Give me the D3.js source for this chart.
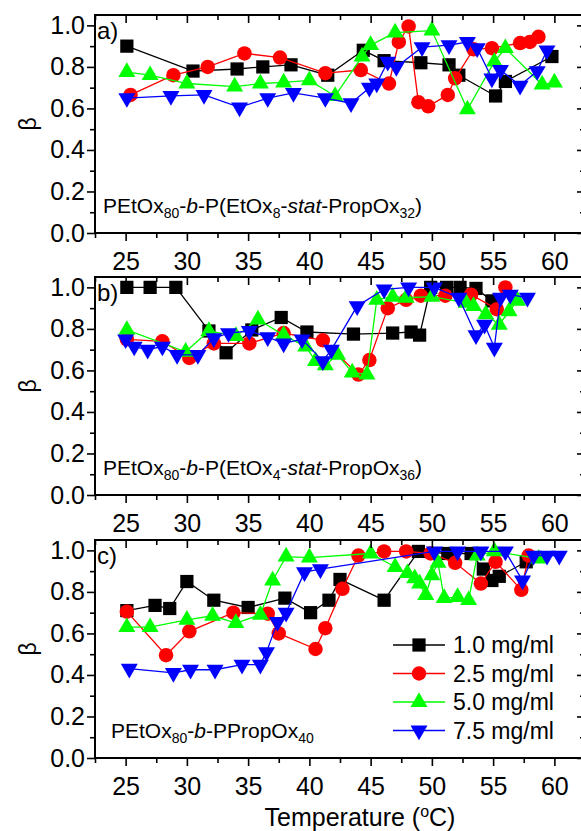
<!DOCTYPE html>
<html>
<head>
<meta charset="utf-8">
<script src="https://cdn.jsdelivr.net/npm/d3@7"></script>
<style>
  body { margin: 0; background: #fff; }
  svg { display: block; }
  text { font-family: "Liberation Sans", Arial, sans-serif; fill: #000; }
</style>
</head>
<body>
<svg id="chart" width="581" height="831"></svg>
<script>
// ---- axis ticks ----
const temperatureTicks = [25, 30, 35, 40, 45, 50, 55, 60];
const temperatureMinor = [22.5, 27.5, 32.5, 37.5, 42.5, 47.5, 52.5, 57.5, 62.5];
const betaTicks = [0, 0.2, 0.4, 0.6, 0.8, 1.0];
const betaMinor = [0.1, 0.3, 0.5, 0.7, 0.9];
const concentrations = ["1.0 mg/ml", "2.5 mg/ml", "5.0 mg/ml", "7.5 mg/ml"];
const panelLetters = ["a)", "b)", "c)"];

// ---- panel a: PEtOx80-b-P(EtOx8-stat-PropOx32) ----
const aT1 = [25.1, 30.5, 34.1, 36.2, 38.5, 41.5, 44.4, 46.1, 49.1, 51.4, 52.2, 55.2, 56.0, 59.8];
const aB1 = [0.90, 0.78, 0.79, 0.80, 0.81, 0.76, 0.88, 0.83, 0.82, 0.81, 0.76, 0.66, 0.73, 0.85];
const aT2 = [25.4, 28.9, 31.7, 34.7, 37.6, 41.3, 44.2, 46.5, 47.3, 48.1, 48.9, 49.7, 51.3, 51.9, 53.4, 54.9, 57.2, 58.0, 58.7];
const aB2 = [0.665, 0.76, 0.80, 0.865, 0.845, 0.77, 0.785, 0.72, 0.92, 0.995, 0.63, 0.61, 0.665, 0.745, 0.885, 0.89, 0.915, 0.92, 0.945];
const aT3 = [25.1, 27.0, 30.0, 33.9, 36.0, 37.9, 40.0, 42.1, 44.3, 45.0, 47.0, 50.0, 52.9, 55.1, 56.0, 59.0, 60.0];
const aB3 = [0.775, 0.76, 0.72, 0.705, 0.72, 0.725, 0.735, 0.66, 0.85, 0.905, 0.965, 0.975, 0.595, 0.825, 0.89, 0.715, 0.725];
const aT4 = [25.1, 28.7, 31.4, 34.3, 36.6, 38.7, 41.3, 43.4, 44.9, 45.5, 46.4, 47.1, 49.2, 51.4, 52.9, 53.7, 54.9, 55.6, 57.2, 58.6, 59.4];
const aB4 = [0.65, 0.66, 0.665, 0.605, 0.65, 0.675, 0.65, 0.625, 0.70, 0.72, 0.825, 0.80, 0.895, 0.905, 0.92, 0.89, 0.745, 0.785, 0.71, 0.78, 0.88];

// ---- panel b: PEtOx80-b-P(EtOx4-stat-PropOx36) ----
const bT1 = [25.1, 27.0, 29.1, 31.8, 33.2, 35.3, 37.7, 39.8, 43.6, 46.8, 48.3, 49.0, 49.9, 51.2, 52.3, 53.6, 54.9];
const bB1 = [1.0, 1.0, 1.0, 0.79, 0.685, 0.795, 0.855, 0.785, 0.775, 0.78, 0.785, 0.77, 1.0, 1.0, 1.0, 0.995, 0.935];
const bT2 = [25.1, 28.0, 30.2, 32.2, 35.1, 37.9, 41.1, 44.0, 44.9, 46.4, 47.9, 49.1, 51.1, 53.2, 55.3, 56.0];
const bB2 = [0.75, 0.74, 0.66, 0.73, 0.73, 0.78, 0.745, 0.58, 0.65, 0.90, 0.94, 0.96, 0.96, 0.965, 0.895, 1.0];
const bT3 = [25.1, 29.9, 31.8, 34.0, 35.8, 37.9, 39.7, 40.5, 41.3, 42.3, 43.5, 44.7, 45.5, 46.8, 47.9, 50.0, 52.8, 53.4, 54.4, 55.5, 56.3, 57.0];
const bB3 = [0.795, 0.69, 0.79, 0.765, 0.845, 0.77, 0.715, 0.645, 0.625, 0.675, 0.59, 0.58, 0.94, 0.955, 0.95, 0.955, 0.925, 0.91, 0.87, 0.82, 0.885, 0.935];
const bT4 = [25.0, 25.7, 26.8, 28.0, 29.2, 30.9, 32.2, 33.4, 35.1, 36.6, 37.9, 39.4, 41.1, 41.8, 43.9, 46.1, 48.1, 50.2, 52.2, 53.6, 54.3, 55.1, 55.6, 56.4, 57.8];
const bB4 = [0.75, 0.715, 0.70, 0.715, 0.675, 0.675, 0.755, 0.78, 0.79, 0.76, 0.73, 0.75, 0.645, 0.70, 0.91, 0.99, 1.0, 1.0, 0.95, 0.77, 0.82, 0.71, 0.95, 0.965, 0.95];

// ---- panel c: PEtOx80-b-PPropOx40 ----
const cT1 = [25.1, 27.4, 28.6, 30.0, 32.2, 35.0, 38.0, 40.1, 41.6, 42.5, 46.1, 48.9, 51.3, 53.2, 54.2, 54.9, 55.5, 57.7];
const cB1 = [0.71, 0.735, 0.72, 0.85, 0.76, 0.725, 0.77, 0.70, 0.76, 0.86, 0.76, 0.995, 0.985, 0.985, 0.91, 0.855, 0.875, 0.945];
const cT2 = [25.1, 28.3, 30.2, 33.8, 36.6, 37.5, 40.5, 41.3, 42.7, 44.0, 46.1, 47.9, 49.9, 51.9, 54.0, 55.2, 57.3, 57.9];
const cB2 = [0.705, 0.495, 0.61, 0.70, 0.695, 0.60, 0.525, 0.625, 0.815, 0.975, 0.995, 0.995, 0.985, 0.94, 0.84, 0.945, 0.81, 0.975];
const cT3 = [25.1, 27.0, 30.0, 32.1, 34.0, 36.0, 37.0, 38.1, 40.0, 45.0, 47.0, 48.0, 48.6, 49.0, 49.5, 50.0, 50.5, 51.0, 52.1, 53.0, 53.7, 55.1, 58.7];
const cB3 = [0.63, 0.63, 0.665, 0.685, 0.65, 0.69, 0.855, 0.97, 0.965, 0.985, 0.92, 0.89, 0.865, 0.84, 0.785, 0.88, 0.94, 0.77, 0.775, 0.76, 0.975, 0.995, 0.96];
const cT4 = [25.3, 28.9, 30.3, 32.3, 34.5, 36.0, 36.5, 37.4, 38.1, 39.6, 40.9, 50.2, 52.1, 54.0, 56.0, 57.4, 58.3, 59.4, 60.4];
const cB4 = [0.43, 0.41, 0.425, 0.425, 0.45, 0.45, 0.51, 0.655, 0.70, 0.895, 0.91, 0.995, 0.995, 0.995, 0.995, 0.855, 0.975, 0.975, 0.975];

// polymer labels: [text, style] with style n = normal, s = subscript, i = italic
const labelA = [["PEtOx", "n"], ["80", "s"], ["-", "n"], ["b", "i"], ["-P(EtOx", "n"], ["8", "s"], ["-", "n"], ["stat", "i"], ["-PropOx", "n"], ["32", "s"], [")", "n"]];
const labelB = [["PEtOx", "n"], ["80", "s"], ["-", "n"], ["b", "i"], ["-P(EtOx", "n"], ["4", "s"], ["-", "n"], ["stat", "i"], ["-PropOx", "n"], ["36", "s"], [")", "n"]];
const labelC = [["PEtOx", "n"], ["80", "s"], ["-", "n"], ["b", "i"], ["-PPropOx", "n"], ["40", "s"]];

const colors = ["#000000", "#ff0000", "#00ff00", "#0000ff"];
const symbols = [
  d3.symbol().type(d3.symbolSquare).size(175),
  d3.symbol().type(d3.symbolCircle).size(165),
  d3.symbol().type(d3.symbolTriangle).size(125),
  d3.symbol().type(d3.symbolTriangle).size(125)
];
const symbolRotate = [0, 0, 0, 180];

function zip(ts, bs) { return ts.map((t, i) => ({ t, b: bs[i] })); }

const panels = [
  { top: 15,  label: labelA, labelX: 103, labelY: 213, series: [zip(aT1, aB1), zip(aT2, aB2), zip(aT3, aB3), zip(aT4, aB4)] },
  { top: 277, label: labelB, labelX: 103, labelY: 475, series: [zip(bT1, bB1), zip(bT2, bB2), zip(bT3, bB3), zip(bT4, bB4)] },
  { top: 540, label: labelC, labelX: 111, labelY: 738, series: [zip(cT1, cB1), zip(cT2, cB2), zip(cT3, cB3), zip(cT4, cB4)] }
];

const svg = d3.select("#chart");
const left = 95, plotW = 490, plotH = 218;
const tickFont = 25;
const x = d3.scaleLinear().domain([22.5, 62.5]).range([left, left + plotW]);

panels.forEach((p, pi) => {
  const y = d3.scaleLinear().domain([0, 1.05]).range([p.top + plotH, p.top]);
  const g = svg.append("g");

  // series: line then markers, in plotting order
  p.series.forEach((data, si) => {
    const line = d3.line().x(d => x(d.t)).y(d => y(d.b));
    g.append("path").datum(data)
      .attr("d", line).attr("fill", "none")
      .attr("stroke", colors[si]).attr("stroke-width", 1.3);
    g.selectAll(null).data(data).enter().append("path")
      .attr("d", symbols[si])
      .attr("transform", d => `translate(${x(d.t)},${y(d.b)}) rotate(${symbolRotate[si]})`)
      .attr("fill", colors[si]);
  });

  const styleAxis = sel => {
    sel.select(".domain").remove();
    sel.selectAll(".tick line").attr("stroke", "#000").attr("stroke-width", 1.6);
    sel.selectAll(".tick text").attr("font-size", tickFont).attr("fill", "#000");
  };

  // bottom axis (outward ticks, labelled)
  g.append("g").attr("transform", `translate(0,${p.top + plotH})`)
    .call(d3.axisBottom(x).tickValues(temperatureTicks).tickSize(8).tickPadding(11).tickFormat(d3.format("d")))
    .call(styleAxis);
  g.append("g").attr("transform", `translate(0,${p.top + plotH})`)
    .call(d3.axisBottom(x).tickValues(temperatureMinor).tickSize(5).tickFormat(""))
    .call(styleAxis);
  // top axis (inward ticks)
  g.append("g").attr("transform", `translate(0,${p.top})`)
    .call(d3.axisTop(x).tickValues(temperatureTicks).tickSize(-8).tickFormat(""))
    .call(styleAxis);
  g.append("g").attr("transform", `translate(0,${p.top})`)
    .call(d3.axisTop(x).tickValues(temperatureMinor).tickSize(-5).tickFormat(""))
    .call(styleAxis);
  // left axis (outward ticks, labelled)
  g.append("g").attr("transform", `translate(${left},0)`)
    .call(d3.axisLeft(y).tickValues(betaTicks).tickSize(8).tickPadding(2).tickFormat(d3.format(".1f")))
    .call(styleAxis);
  g.append("g").attr("transform", `translate(${left},0)`)
    .call(d3.axisLeft(y).tickValues(betaMinor).tickSize(5).tickFormat(""))
    .call(styleAxis);
  // right axis (inward ticks)
  g.append("g").attr("transform", `translate(${left + plotW},0)`)
    .call(d3.axisRight(y).tickValues(betaTicks).tickSize(-8).tickFormat(""))
    .call(styleAxis);
  g.append("g").attr("transform", `translate(${left + plotW},0)`)
    .call(d3.axisRight(y).tickValues(betaMinor).tickSize(-5).tickFormat(""))
    .call(styleAxis);

  // frame
  g.append("rect").attr("x", left).attr("y", p.top).attr("width", plotW).attr("height", plotH)
    .attr("fill", "none").attr("stroke", "#000").attr("stroke-width", 2);

  // panel letter
  g.append("text").attr("x", left + 2).attr("y", p.top + 24)
    .attr("font-size", 24).text(panelLetters[pi]);

  // y label
  g.append("text").attr("transform", `translate(36,${p.top + plotH / 2}) rotate(-90)`)
    .attr("text-anchor", "middle").attr("font-size", 23).text("β");

  // polymer label
  const t = g.append("text").attr("x", p.labelX).attr("y", p.labelY).attr("font-size", 21);
  p.label.forEach(([s, st], i) => {
    const prev = i > 0 ? p.label[i - 1][1] : "n";
    const ts = t.append("tspan").text(s);
    if (st === "s") ts.attr("font-size", 14).attr("dy", 5);
    else if (prev === "s") ts.attr("dy", -5);
    if (st === "i") ts.attr("font-style", "italic");
  });
});

// x axis title
const title = svg.append("text").attr("x", 360).attr("y", 826).attr("text-anchor", "middle").attr("font-size", 25);
title.append("tspan").text("Temperature (");
title.append("tspan").text("o").attr("font-size", 16).attr("dy", -9);
title.append("tspan").text("C)").attr("dy", 9);

// legend in panel c
const legendRows = [645, 673.5, 702, 730.5];
const legend = svg.append("g");
concentrations.forEach((name, i) => {
  const ly = legendRows[i];
  legend.append("line").attr("x1", 393).attr("x2", 445).attr("y1", ly).attr("y2", ly)
    .attr("stroke", colors[i]).attr("stroke-width", 1.3);
  legend.append("path").attr("d", symbols[i])
    .attr("transform", `translate(419,${ly}) rotate(${symbolRotate[i]})`).attr("fill", colors[i]);
  legend.append("text").attr("x", 453).attr("y", ly + 8).attr("font-size", 23).text(name);
});
</script>
</body>
</html>
